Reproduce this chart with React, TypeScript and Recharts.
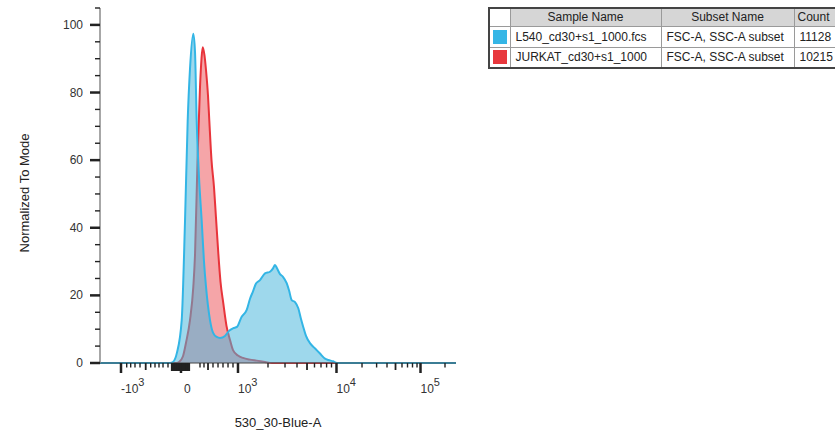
import { ComposedChart, Area, XAxis, YAxis } from 'recharts';

// Flow histogram (FlowJo style): x in display channels 0..1000 of a biex axis, y normalized to mode
const FONT = '"Liberation Sans", Arial, sans-serif';

const blueX = [0, 197, 205, 216, 229.5, 238.8, 246.3, 252.8, 262.1, 266.9, 271.6, 278.1, 285.7, 292.1, 297.8, 309, 317.4, 327.8, 337.1, 351.1, 362.4, 374.4, 384.8, 398, 412.1, 421.4, 429.8, 438.2, 449.4, 463.5, 477.5, 486, 491.6, 497.2, 505.6, 514, 524.4, 530.9, 538.5, 547.8, 557, 564.6, 571.1, 578.7, 590.4, 604.3, 618, 632, 641.3, 654.5, 665.7, 1000];
const blueY = [0, 0, 0.3, 3, 12.7, 42, 71.6, 87, 97.4, 92, 71.6, 55, 42, 30, 22.5, 12.7, 9, 7.7, 7.4, 8, 9.5, 10.3, 10.7, 13.7, 15.7, 19, 21.2, 23.5, 24.5, 26.5, 27, 28, 29, 28, 26.3, 25.5, 23.6, 21.5, 18.6, 18, 16.2, 13, 10.6, 8, 5.8, 4.3, 2.8, 1.3, 0.9, 0.5, 0, 0];

const redX = [0, 216, 221.9, 233.1, 241.6, 252.8, 262.1, 266.9, 274.4, 280.9, 285.1, 288.5, 293.5, 297.8, 303.4, 307, 313.2, 320.2, 325.8, 332.3, 338.5, 346.3, 355.3, 365.2, 373.6, 387.6, 401.7, 421.4, 440.2, 463.5, 483.1, 1000];
const redY = [0, 0, 0.3, 2, 6, 12.7, 22.5, 32, 62, 81.6, 90, 93.4, 91, 86.6, 79, 71.8, 60, 52, 43, 32.5, 24, 17.7, 11, 6.8, 3.8, 2.2, 1.5, 1, 0.7, 0.3, 0, 0];

// axis ticks (channel positions)
const majorTicks = [59, 227.5, 387.6, 664.3, 900.3];
const majorBase = ['-10', '0', '10', '10', '10'];
const majorExp = ['3', '', '3', '4', '5'];
const mediumTicks = [128.4, 303.4, 581.5, 830.1];
const zeroTicks = [202.2, 207.9, 213.5, 219.1, 224.7, 233.1, 238.8, 244.4, 250];
const minorTicks = [75, 86.2, 98.3, 112.4, 142.4, 154.5, 165.7, 177, 191, 280.9, 292.1, 317.4, 331.5, 345.5, 359.6, 373.6, 471.9, 519.7, 553.4, 602.5, 620.8, 636.5, 650.3, 736, 777, 806.2, 848.3, 863.8, 877.8, 890.5, 969.1];
const yTicks = [0, 5, 10, 15, 20, 25, 30, 35, 40, 45, 50, 55, 60, 65, 70, 75, 80, 85, 90, 95, 100, 105];

const blueData = blueX.map((x, i) => ({ x, y: blueY[i] }));
const redData = redX.map((x, i) => ({ x, y: redY[i] }));
const allTicks = [...majorTicks, ...mediumTicks, ...zeroTicks, ...minorTicks].sort((a, b) => a - b);

const XTick = (props: any) => {
  const { x, y, payload } = props;
  const v = payload.value;
  const mi = majorTicks.indexOf(v);
  if (mi >= 0) {
    const zero = majorExp[mi] === '';
    return (
      <g>
        <line x1={x} x2={x} y1={y} y2={y + 10} stroke="#222" strokeWidth={2.5} />
        <text x={zero ? x + 3 : x} y={y + 30} fontSize={12} fill="#333" fontFamily={FONT} textAnchor="start">
          {majorBase[mi]}
          {!zero && <tspan dy={-7} fontSize={11}>{majorExp[mi]}</tspan>}
        </text>
      </g>
    );
  }
  if (zeroTicks.includes(v)) {
    return <line x1={x} x2={x} y1={y} y2={y + 8} stroke="#222" strokeWidth={2.2} />;
  }
  if (mediumTicks.includes(v)) {
    return <line x1={x} x2={x} y1={y} y2={y + 7} stroke="#222" strokeWidth={1.8} />;
  }
  return <line x1={x} x2={x} y1={y} y2={y + 4.5} stroke="#222" strokeWidth={1.4} />;
};

const YTick = (props: any) => {
  const { x, y, payload } = props;
  const v = payload.value;
  if (v % 20 === 0) {
    return (
      <g>
        <line x1={x - 10} x2={x} y1={y} y2={y} stroke="#222" strokeWidth={2.5} />
        <text x={x - 17} y={y + 4} fontSize={12} fill="#333" fontFamily={FONT} textAnchor="end">{v}</text>
      </g>
    );
  }
  return <line x1={x - 5} x2={x} y1={y} y2={y} stroke="#222" strokeWidth={1.4} />;
};

const cell: React.CSSProperties = { border: '1px solid #9a9a9a', padding: '0 5px', whiteSpace: 'nowrap', boxSizing: 'border-box' };
const head: React.CSSProperties = { ...cell, background: '#d6d6d6', textAlign: 'center', height: 18 };
const row: React.CSSProperties = { ...cell, height: 21 };

export default function App() {
  return (
    <div style={{ position: 'fixed', left: 0, top: 0, width: 835, height: 433, overflow: 'hidden', background: '#fff', fontFamily: FONT }}>
      <ComposedChart width={470} height={433} margin={{ top: 8, right: 14, bottom: 30, left: 40 }}>
        <XAxis xAxisId="b" type="number" dataKey="x" domain={[0, 1000]} ticks={allTicks} interval={0}
          tick={XTick} tickLine={false} tickSize={0} tickMargin={0} height={40} axisLine={{ stroke: '#444' }} allowDataOverflow />
        <XAxis xAxisId="t" orientation="top" type="number" dataKey="x" domain={[0, 1000]} tick={false} tickLine={false}
          height={0} axisLine={{ stroke: '#777' }} />
        <YAxis yAxisId="l" type="number" domain={[0, 105]} ticks={yTicks} interval={0} tick={YTick}
          tickLine={false} tickSize={0} tickMargin={0} width={60} axisLine={{ stroke: '#8a8a8a', strokeWidth: 1.5 }} />
        <YAxis yAxisId="r" orientation="right" type="number" domain={[0, 105]} tick={false} tickLine={false}
          width={0} axisLine={{ stroke: '#777' }} />

        {/* JURKAT (red) underneath */}
        <Area xAxisId="b" yAxisId="l" data={redData} dataKey="y" type="monotone" stroke="#e8343b" strokeWidth={2}
          fill="#e8383d" fillOpacity={0.45} dot={false} activeDot={false} isAnimationActive={false} />
        {/* L540 (blue) on top, translucent */}
        <Area xAxisId="b" yAxisId="l" data={blueData} dataKey="y" type="monotone" stroke="#33b5e5" strokeWidth={2}
          fill="#48b5db" fillOpacity={0.53} dot={false} activeDot={false} isAnimationActive={false} />
      </ComposedChart>

      <div style={{ position: 'absolute', left: 0, top: 183, width: 50, height: 20, transform: 'rotate(-90deg)', transformOrigin: '25px 10px', fontSize: 13, color: '#222', whiteSpace: 'nowrap', display: 'flex', justifyContent: 'center', lineHeight: '20px' }}>
        Normalized To Mode
      </div>
      <div style={{ position: 'absolute', left: 178, top: 415, width: 200, textAlign: 'center', fontSize: 13, color: '#222' }}>
        530_30-Blue-A
      </div>

      <table style={{ position: 'absolute', left: 488, top: 7, width: 380, borderCollapse: 'collapse', border: '2px solid #444', fontSize: 12, color: '#222', tableLayout: 'fixed' }}>
        <colgroup>
          <col style={{ width: 21 }} />
          <col style={{ width: 151 }} />
          <col style={{ width: 133 }} />
          <col style={{ width: 75 }} />
        </colgroup>
        <tbody>
          <tr>
            <td style={{ ...cell, height: 18 }}></td>
            <td style={head}>Sample Name</td>
            <td style={head}>Subset Name</td>
            <td style={{ ...head, textAlign: 'left', paddingLeft: 3 }}>Count</td>
          </tr>
          <tr>
            <td style={{ ...row, padding: 0 }}><div style={{ width: 14, height: 14, margin: '0 auto', background: '#35b6e6' }} /></td>
            <td style={row}>L540_cd30+s1_1000.fcs</td>
            <td style={row}>FSC-A, SSC-A subset</td>
            <td style={row}>11128</td>
          </tr>
          <tr>
            <td style={{ ...row, padding: 0 }}><div style={{ width: 14, height: 14, margin: '0 auto', background: '#e8383d' }} /></td>
            <td style={row}>JURKAT_cd30+s1_1000</td>
            <td style={row}>FSC-A, SSC-A subset</td>
            <td style={row}>10215</td>
          </tr>
        </tbody>
      </table>
    </div>
  );
}
